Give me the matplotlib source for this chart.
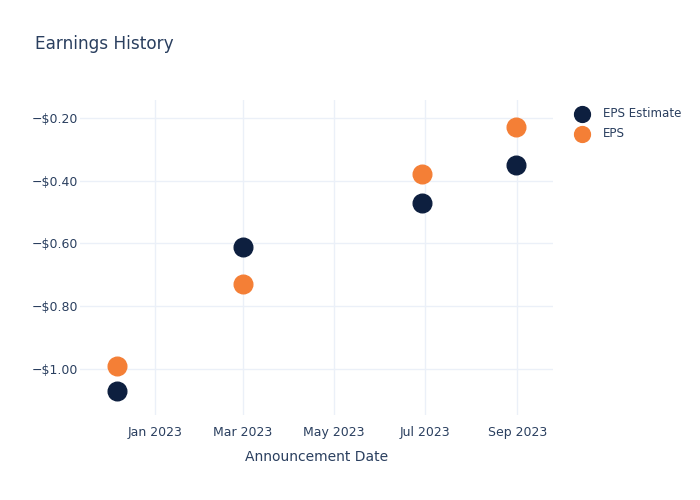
import matplotlib
matplotlib.use('Agg')
import matplotlib.pyplot as plt
import matplotlib.dates as mdates
from matplotlib.ticker import FuncFormatter
import datetime as dt

# 数据
dates = [dt.date(2022, 12, 7), dt.date(2023, 3, 1), dt.date(2023, 6, 29), dt.date(2023, 8, 31)]
eps_estimate = [-1.07, -0.61, -0.47, -0.35]
eps_actual = [-0.99, -0.73, -0.38, -0.23]
series_names = ['EPS Estimate', 'EPS']

text_color = '#2a3f5f'
grid_color = '#ebf0f8'

plt.rcParams['font.family'] = ['DejaVu Sans']

fig = plt.figure(figsize=(7, 5), dpi=100)
ax = fig.add_axes([0.1143, 0.17, 0.6757, 0.63])

ax.scatter(dates, eps_estimate, s=180, color='#0d1f3f', label=series_names[0], zorder=3)
ax.scatter(dates, eps_actual, s=180, color='#f47f36', label=series_names[1], zorder=3)

# 坐标范围
ax.set_xlim(dt.date(2022, 11, 12), dt.date(2023, 9, 25))
ax.set_ylim(-1.147, -0.1426)

ax.xaxis.set_major_locator(mdates.MonthLocator(bymonth=[1, 3, 5, 7, 9]))
ax.xaxis.set_major_formatter(mdates.DateFormatter('%b %Y'))
ax.set_yticks([-1.0, -0.8, -0.6, -0.4, -0.2])
ax.yaxis.set_major_formatter(FuncFormatter(lambda v, p: ('\u2212$%.2f' % abs(v)) if v < 0 else '$%.2f' % v))

ax.grid(True, color=grid_color, linewidth=1)
ax.set_axisbelow(True)
for s in ax.spines.values():
    s.set_visible(False)
ax.tick_params(axis='y', length=0, labelsize=9, colors=text_color, pad=1.5)
ax.tick_params(axis='x', length=0, labelsize=9, colors=text_color, pad=8)

ax.set_xlabel('Announcement Date', fontsize=10, color=text_color, labelpad=8)
fig.text(0.05, 0.912, 'Earnings History', fontsize=12.2, color=text_color, va='center')

leg = ax.legend(loc='upper left', bbox_to_anchor=(0.808, 0.795), bbox_transform=fig.transFigure,
                frameon=False, fontsize=8.6, labelspacing=0.6, handletextpad=0.7,
                borderaxespad=0, markerscale=0.85)
for t in leg.get_texts():
    t.set_color(text_color)

fig.savefig('out.png', dpi=100)
